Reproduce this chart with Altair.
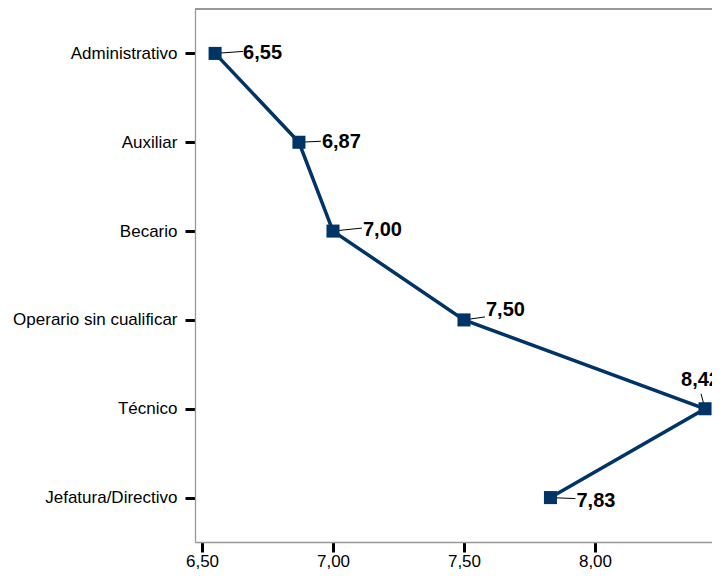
import altair as alt
import pandas as pd

categories = ["Administrativo", "Auxiliar", "Becario", "Operario sin cualificar",
              "Técnico", "Jefatura/Directivo"]
values = [6.55, 6.87, 7.00, 7.50, 8.42, 7.83]
x_ticks = [6.5, 7.0, 7.5, 8.0]
x_domain = [6.4733, 8.4466]

# label placement styles (pixels): label dx, dy and leader end offset
label_style = {
    "Administrativo": (28, 0, 28, -2),
    "Auxiliar": (23, 0, 22, -1),
    "Becario": (30, -1, 29, -3),
    "Operario sin cualificar": (22, -10, 21, -3),
    "Técnico": (-24, -29, -4, -15),
    "Jefatura/Directivo": (26, 3, 25, 1),
}

df = pd.DataFrame({"cat": categories, "val": values, "idx": list(range(len(categories)))})
df["lab"] = [f"{v:.2f}".replace(".", ",") for v in values]

FONT = "Liberation Sans"
NAVY = "#003366"
W, H = 517, 533

xenc = alt.X("val:Q", scale=alt.Scale(domain=x_domain, nice=False, zero=False),
             axis=alt.Axis(values=x_ticks, title=None, grid=False,
                           labelExpr="replace(format(datum.value, '.2f'), '.', ',')"))
yenc = alt.Y("cat:N", sort=categories,
             scale=alt.Scale(type="point", padding=0.5),
             axis=alt.Axis(title=None, grid=False))

base = alt.Chart(df)

line = base.mark_line(color=NAVY, strokeWidth=3.5).encode(
    x=xenc, y=yenc, order=alt.Order("idx:Q"))

leaders = []
texts = []
for c in categories:
    dx, dy, lx, ly = label_style[c]
    sub = base.transform_filter(alt.datum.cat == c)
    leaders.append(sub.mark_rule(color="black", strokeWidth=1, x2Offset=lx, y2Offset=ly).encode(
        x=xenc, x2="val:Q", y=yenc, y2="cat:N"))
    texts.append(sub.mark_text(align="left", baseline="middle", dx=dx, dy=dy, fontSize=20,
                               fontWeight="bold", font=FONT, color="black").encode(
        x=xenc, y=yenc, text="lab:N"))

points = base.mark_point(shape="square", filled=True, size=170, color=NAVY, opacity=1).encode(
    x=xenc, y=yenc)

top_line = alt.Chart(df).mark_rule(color="#999999", strokeWidth=1.3).encode(
    x=alt.value(0), x2=alt.value(W), y=alt.value(0))

chart = alt.layer(top_line, line, *leaders, points, *texts).properties(
    width=W, height=H,
    padding={"left": 187, "top": 1, "right": 0, "bottom": 27},
    autosize=alt.AutoSizeParams(type="none"),
).configure_view(stroke=None).configure_axis(
    domainColor="#999999", domainWidth=1.3,
    tickColor="black", tickWidth=3, tickSize=10,
    labelFont=FONT, labelFontSize=17, labelColor="black",
).configure_axisX(labelPadding=1).configure_axisY(labelPadding=8)

chart.save("out.html", embed_options={"renderer": "svg", "actions": False})
